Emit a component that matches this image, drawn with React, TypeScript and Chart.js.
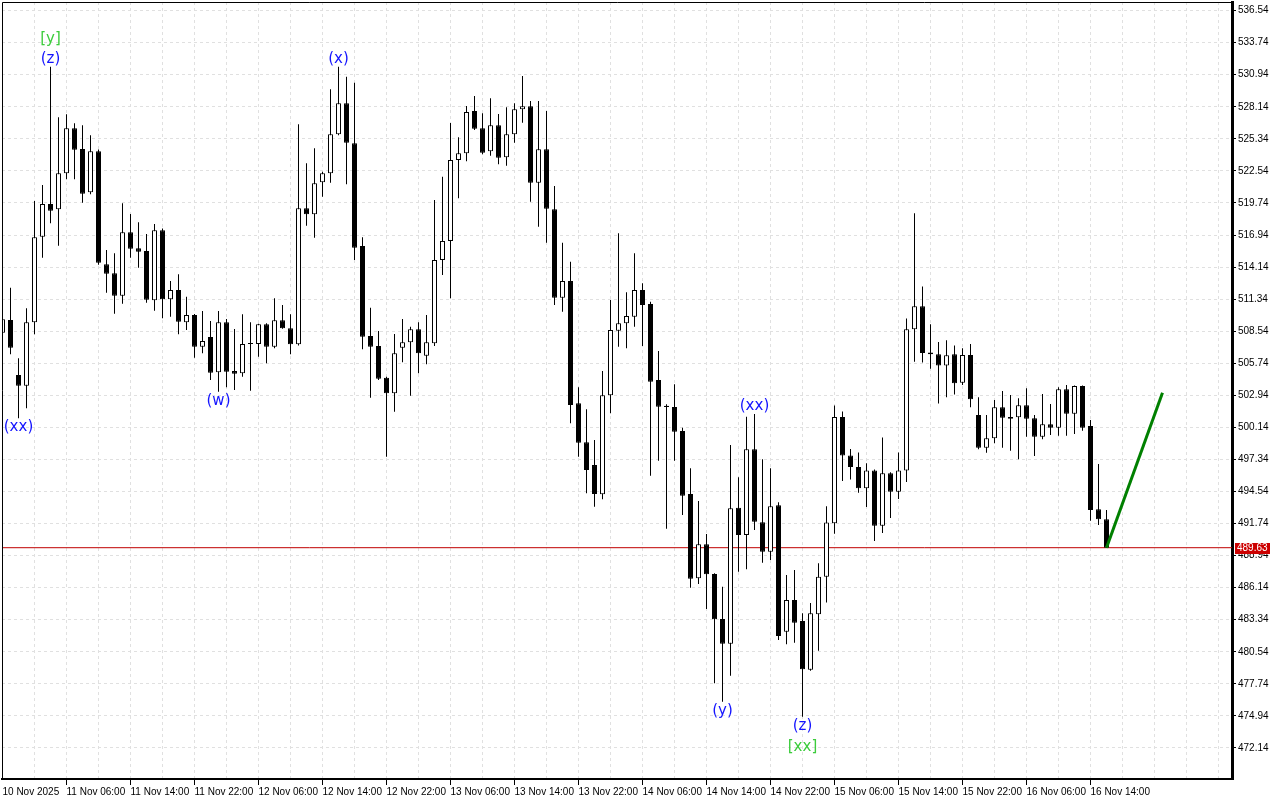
import React, { useEffect, useRef } from "react";
import { Chart, registerables } from "chart.js";

Chart.register(...registerables);

// Hourly candles, first candle = 10 Nov 2025 22:00
const openPrices = [
  508.41, 509.52, 504.71, 503.78, 509.32, 516.79, 519.65, 519.19, 522.33, 526.26,
  524.45, 520.67, 524.25, 514.38, 513.6, 511.64, 517.18, 515.78, 515.54, 511.24,
  517.35, 511.33, 512.14, 509.32, 509.95, 507.19, 508.03, 504.95, 509.32, 505.06,
  504.86, 507.42, 507.42, 509.14, 507.19, 509.49, 508.79, 507.4, 519.27, 518.75,
  521.54, 522.33, 525.74, 528.44, 524.95, 515.98, 508.12, 507.25, 504.48, 503.12,
  507.1, 507.57, 508.71, 506.4, 507.48, 514.76, 516.42, 523.49, 524.08, 527.77,
  526.26, 524.25, 526.52, 523.73, 525.74, 527.92, 528.18, 521.51, 524.43, 519.19,
  511.47, 512.92, 502.24, 498.84, 496.85, 494.29, 502.94, 508.58, 509.23, 509.81,
  512.14, 510.92, 504.28, 502.03, 501.92, 499.82, 494.32, 486.96, 489.93, 487.33,
  483.4, 481.25, 493.12, 490.74, 498.22, 491.85, 489.28, 493.33, 482.29, 485.06,
  483.23, 478.98, 483.81, 487.09, 491.77, 501.04, 497.69, 496.67, 494.83, 496.38,
  491.55, 496.14, 494.51, 496.38, 508.71, 510.71, 506.68, 506.52, 505.55, 506.52,
  504.04, 506.46, 501.22, 498.36, 499.19, 501.89, 501.05, 501.02, 502.07, 500.93,
  499.33, 500.41, 500.11, 503.47, 501.33, 503.75, 500.26, 492.98, 492.11,
];
const highPrices = [
  509.87, 512.34, 506.17, 510.54, 519.91, 521.31, 531.64, 527.22, 527.48, 526.7,
  526.52, 525.65, 524.4, 515.63, 515.34, 519.71, 518.78, 518.05, 517.03, 517.9,
  517.5, 512.92, 513.51, 511.55, 510.05, 510.3, 509.43, 510.3, 509.61, 508.73,
  510.02, 509.32, 509.2, 509.23, 511.41, 510.83, 510.02, 526.61, 523.2, 524.51,
  522.47, 529.67, 531.64, 530.77, 530.24, 516.74, 510.59, 508.56, 504.57, 508.3,
  509.61, 508.93, 509.32, 509.95, 520.0, 522.03, 526.72, 525.47, 528.21, 529.08,
  527.57, 528.88, 527.51, 528.1, 528.44, 530.83, 528.65, 528.65, 527.77, 521.22,
  516.27, 514.61, 503.64, 501.72, 499.04, 505.06, 511.26, 517.09, 511.94, 515.34,
  512.72, 511.12, 506.81, 502.16, 503.9, 500.11, 496.57, 493.71, 490.83, 487.4,
  486.22, 498.6, 495.78, 501.07, 501.31, 497.35, 496.57, 493.6, 487.25, 487.68,
  483.9, 484.81, 488.28, 493.26, 502.06, 501.53, 498.26, 497.95, 497.01, 496.45,
  499.26, 496.23, 497.95, 509.64, 518.85, 512.45, 509.14, 507.59, 507.74, 507.3,
  507.05, 507.42, 502.77, 501.22, 502.53, 503.32, 502.97, 502.68, 503.55, 501.22,
  503.05, 502.18, 503.64, 503.84, 503.8, 503.8, 500.78, 496.94, 492.92,
];
const lowPrices = [
  508.12, 506.52, 500.93, 501.81, 508.27, 514.96, 517.96, 516.01, 521.81, 521.81,
  519.76, 520.5, 514.35, 511.9, 510.07, 510.94, 514.96, 514.09, 511.03, 510.33,
  509.67, 509.81, 508.27, 508.64, 506.23, 506.61, 504.28, 503.26, 503.64, 503.4,
  504.57, 503.34, 506.31, 505.74, 507.05, 508.75, 506.52, 507.3, 517.75, 516.71,
  520.29, 521.51, 525.65, 521.37, 514.76, 506.96, 502.73, 504.28, 497.58, 501.51,
  505.82, 502.91, 504.86, 505.65, 507.25, 513.45, 511.41, 520.15, 523.38, 526.11,
  523.99, 523.87, 523.12, 522.99, 525.0, 526.75, 519.85, 517.67, 516.27, 510.83,
  510.24, 500.5, 497.58, 494.38, 493.21, 493.86, 501.37, 507.19, 507.05, 508.93,
  507.25, 495.92, 497.23, 491.29, 497.23, 492.49, 486.14, 486.46, 484.28, 477.79,
  476.18, 478.45, 487.53, 487.74, 491.18, 488.32, 488.56, 481.57, 481.19, 481.33,
  474.87, 478.89, 480.63, 484.84, 490.84, 495.45, 495.58, 494.42, 493.18, 490.21,
  490.92, 492.23, 493.89, 495.36, 505.87, 505.81, 505.27, 502.22, 502.78, 503.0,
  503.84, 501.89, 498.22, 497.93, 498.75, 498.36, 498.1, 497.35, 499.33, 497.64,
  499.1, 499.47, 499.41, 499.41, 499.56, 499.85, 491.99, 491.61, 489.6,
];
const closePrices = [
  509.58, 507.1, 503.78, 509.32, 516.74, 519.65, 519.06, 522.33, 526.26, 524.39,
  520.55, 524.25, 514.52, 513.56, 511.64, 517.18, 515.75, 515.48, 511.29, 517.35,
  511.33, 512.14, 509.37, 509.95, 507.19, 507.68, 504.92, 509.32, 505.0, 504.83,
  507.42, 507.45, 509.14, 507.19, 509.49, 508.79, 507.4, 519.27, 518.75, 521.46,
  522.33, 525.74, 528.44, 525.0, 515.83, 508.06, 507.19, 504.39, 503.12, 506.61,
  507.57, 508.71, 506.61, 507.57, 514.76, 516.42, 523.49, 524.08, 527.68, 526.23,
  524.13, 526.52, 523.69, 525.74, 527.92, 528.18, 521.51, 524.43, 519.24, 511.47,
  512.92, 502.09, 498.8, 496.42, 494.32, 502.94, 508.64, 509.23, 509.87, 512.14,
  510.83, 504.13, 501.95, 501.92, 499.76, 494.17, 486.92, 489.93, 487.31, 483.38,
  481.25, 493.07, 490.74, 498.22, 491.9, 489.28, 493.25, 481.92, 485.06, 483.08,
  479.01, 483.91, 487.09, 491.83, 501.04, 497.69, 496.67, 494.83, 496.38, 491.55,
  496.14, 494.51, 496.38, 508.71, 510.71, 506.64, 506.52, 505.55, 506.43, 504.0,
  506.46, 502.59, 498.36, 499.19, 501.89, 500.98, 500.9, 502.07, 500.9, 499.33,
  500.41, 500.11, 503.47, 501.33, 503.75, 500.11, 492.92, 492.11, 489.63,
];

const timeLabels = [
  "10 Nov 2025", "11 Nov 06:00", "11 Nov 14:00", "11 Nov 22:00", "12 Nov 06:00",
  "12 Nov 14:00", "12 Nov 22:00", "13 Nov 06:00", "13 Nov 14:00", "13 Nov 22:00",
  "14 Nov 06:00", "14 Nov 14:00", "14 Nov 22:00", "15 Nov 06:00", "15 Nov 14:00",
  "15 Nov 22:00", "16 Nov 06:00", "16 Nov 14:00",
];
const candlesPerLabel = 8;
const candlesPerGrid = 4;

const priceTicks = [
  472.14, 474.94, 477.74, 480.54, 483.34, 486.14, 488.94, 491.74, 494.54, 497.34,
  500.14, 502.94, 505.74, 508.54, 511.34, 514.14, 516.94, 519.74, 522.54, 525.34,
  528.14, 530.94, 533.74, 536.54,
];

const lastPrice = 489.63;
const forecastIndex = [138, 145];
const forecastValues = [489.63, 503.17];

const waveLabels = [
  { index: 2, text: "(xx)", color: "#1414ff", above: false, row: 0 },
  { index: 6, text: "(z)", color: "#1414ff", above: true, row: 0 },
  { index: 6, text: "[y]", color: "#3ccc3c", above: true, row: 1 },
  { index: 27, text: "(w)", color: "#1414ff", above: false, row: 0 },
  { index: 42, text: "(x)", color: "#1414ff", above: true, row: 0 },
  { index: 90, text: "(y)", color: "#1414ff", above: false, row: 0 },
  { index: 94, text: "(xx)", color: "#1414ff", above: true, row: 0 },
  { index: 100, text: "(z)", color: "#1414ff", above: false, row: 0 },
  { index: 100, text: "[xx]", color: "#3ccc3c", above: false, row: 1 },
];

const yMin = 469.43;
const yMax = 537.29;
const xMin = -0.0625;
const xMax = 153.6875;

const AXIS_FONT = { family: "'Liberation Sans', Arial, sans-serif", size: 10 };

const overlayPlugin = {
  id: "overlay",
  afterDatasetsDraw(chart: any) {
    const { ctx, scales } = chart;
    const xs = scales.x;
    const ys = scales.y;
    ctx.save();
    ctx.font = "15px 'DejaVu Sans', sans-serif";
    ctx.textAlign = "center";
    ctx.textBaseline = "middle";
    for (const w of waveLabels) {
      const px = xs.getPixelForValue(w.index);
      const py = w.above
        ? ys.getPixelForValue(highPrices[w.index]) - 8 - 20 * w.row
        : ys.getPixelForValue(lowPrices[w.index]) + 9 + 21 * w.row;
      ctx.fillStyle = w.color;
      ctx.fillText(w.text, px, py);
    }
    ctx.restore();
  },
  afterDraw(chart: any) {
    const { ctx, chartArea, scales } = chart;
    ctx.save();
    ctx.strokeStyle = "#000";
    ctx.lineWidth = 1;
    ctx.beginPath();
    ctx.moveTo(chartArea.left + 0.5, chartArea.bottom);
    ctx.lineTo(chartArea.left + 0.5, chartArea.top + 0.5);
    ctx.lineTo(chartArea.right, chartArea.top + 0.5);
    ctx.stroke();
    // price tag
    const py = Math.round(scales.y.getPixelForValue(lastPrice));
    ctx.fillStyle = "#cc0000";
    ctx.fillRect(chartArea.right + 3, py - 5, 35, 11);
    ctx.fillStyle = "#fff";
    ctx.font = "10px 'Liberation Sans', Arial, sans-serif";
    ctx.textAlign = "left";
    ctx.textBaseline = "middle";
    ctx.fillText(lastPrice.toFixed(2), chartArea.right + 5, py + 0.5);
    ctx.restore();
  },
};

export default function App() {
  const ref = useRef<HTMLCanvasElement>(null);

  useEffect(() => {
    if (!ref.current) return;
    const bodyColors = openPrices.map((o, i) => (closePrices[i] >= o ? "#ffffff" : "#000000"));
    const gridTicks: number[] = [];
    for (let v = 0; v <= xMax; v += candlesPerGrid) gridTicks.push(v);

    const labelFor = (v: number) => {
      if (v % candlesPerLabel !== 0) return "";
      const k = v / candlesPerLabel;
      return k < timeLabels.length ? timeLabels[k] : "";
    };

    const chart = new Chart(ref.current, {
      type: "bar",
      data: {
        datasets: [
          {
            type: "line",
            label: "forecast",
            data: forecastIndex.map((x, k) => ({ x, y: forecastValues[k] })),
            borderColor: "#008000",
            borderWidth: 3,
            pointRadius: 0,
            order: 0,
          } as any,
          {
            label: "bodies",
            data: openPrices.map((o, i) => ({ x: i, y: [o, closePrices[i]] })),
            backgroundColor: bodyColors,
            borderColor: "#000000",
            borderWidth: 1,
            borderSkipped: false,
            barThickness: 5,
            minBarLength: 1,
            grouped: false,
            inflateAmount: 0,
            order: 1,
          } as any,
          {
            label: "wicks",
            data: lowPrices.map((l, i) => ({ x: i, y: [l, highPrices[i]] })),
            backgroundColor: "#000000",
            borderWidth: 0,
            barThickness: 1,
            grouped: false,
            inflateAmount: 0,
            order: 2,
          } as any,
          {
            type: "line",
            label: "bid",
            data: [
              { x: xMin, y: lastPrice },
              { x: xMax, y: lastPrice },
            ],
            borderColor: "#c00000",
            borderWidth: 1,
            pointRadius: 0,
            order: 3,
          } as any,
        ],
      },
      options: {
        animation: false,
        responsive: false,
        devicePixelRatio: 1,
        events: [],
        layout: { padding: { left: 2, top: 2, right: 0, bottom: 0 } },
        plugins: {
          legend: { display: false },
          tooltip: { enabled: false },
          title: { display: false },
        },
        scales: {
          x: {
            type: "linear",
            min: xMin,
            max: xMax,
            offset: false,
            afterBuildTicks: (s: any) => {
              s.ticks = gridTicks.map((v) => ({ value: v }));
            },
            afterFit: (s: any) => {
              s.height = 21;
              s.paddingLeft = 0;
              s.paddingRight = 0;
            },
            grid: {
              color: "#e0e0e0",
              lineWidth: 1,
              drawTicks: true,
              tickLength: 6,
              tickWidth: 1,
              tickColor: (c: any) => {
                const v = c.tick ? c.tick.value : -1;
                return v > 0 && labelFor(v) !== "" ? "#000000" : "rgba(0,0,0,0)";
              },
              offset: false,
            },
            border: { display: true, color: "#000000", width: 2, dash: [3, 3] },
            ticks: {
              autoSkip: false,
              maxRotation: 0,
              minRotation: 0,
              align: "start",
              padding: 1,
              color: "#000000",
              font: AXIS_FONT,
              callback: (v: any) => labelFor(Number(v)),
            },
          },
          y: {
            type: "linear",
            position: "right",
            min: yMin,
            max: yMax,
            afterBuildTicks: (s: any) => {
              s.ticks = priceTicks.map((v) => ({ value: v }));
            },
            afterFit: (s: any) => {
              s.width = 48;
              s.paddingTop = 0;
              s.paddingBottom = 0;
            },
            grid: {
              color: "#e0e0e0",
              lineWidth: 1,
              drawTicks: true,
              tickLength: 4,
              tickWidth: 1,
              tickColor: "#000000",
            },
            border: { display: true, color: "#000000", width: 3, dash: [3, 3] },
            ticks: {
              autoSkip: false,
              padding: 2,
              color: "#000000",
              font: AXIS_FONT,
              callback: (v: any) => Number(v).toFixed(2),
            },
          },
        },
      } as any,
      plugins: [overlayPlugin],
    });
    return () => chart.destroy();
  }, []);

  return (
    <div style={{ position: "fixed", left: 0, top: 0, width: 1280, height: 800, background: "#ffffff" }}>
      <canvas ref={ref} width={1280} height={800} style={{ display: "block", width: 1280, height: 800 }} />
    </div>
  );
}
